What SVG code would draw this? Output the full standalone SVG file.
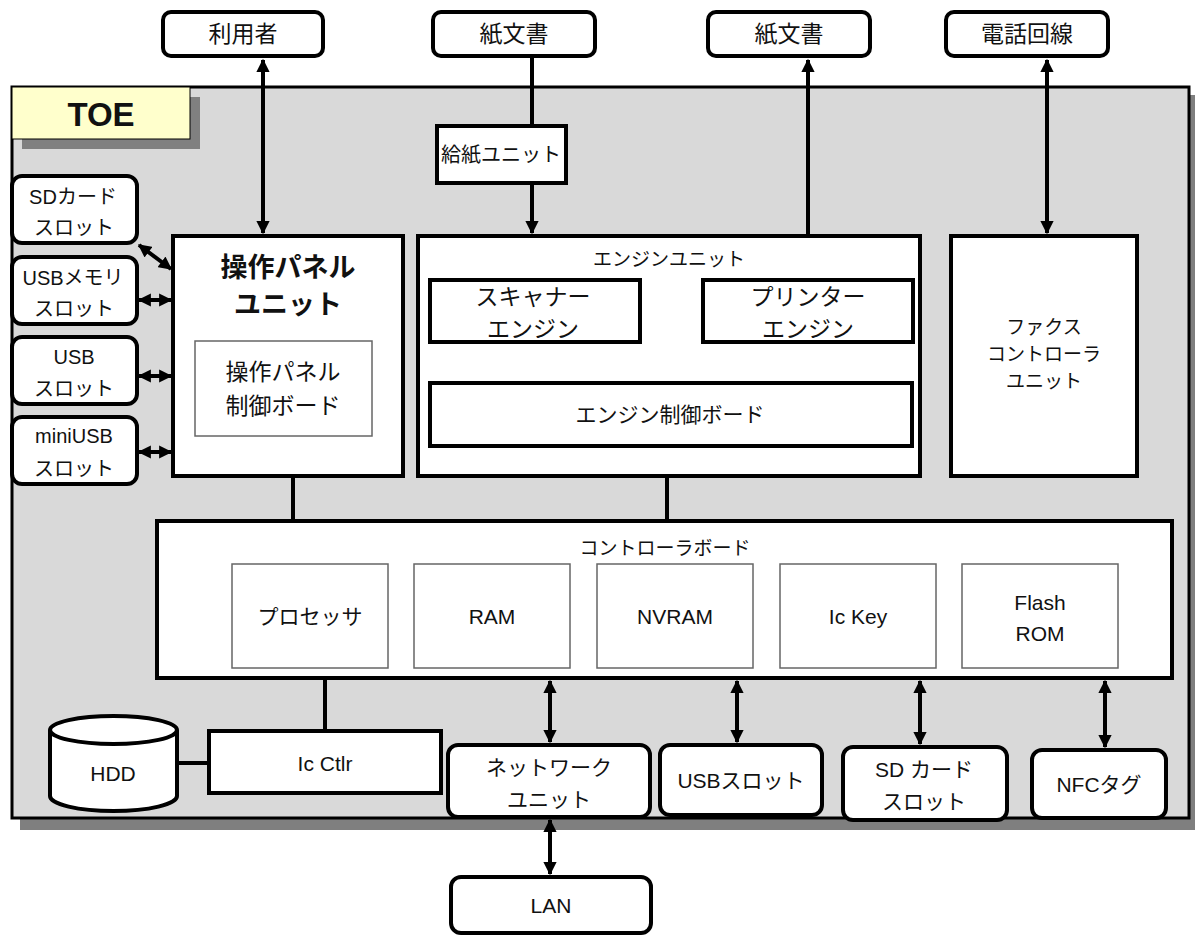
<svg xmlns="http://www.w3.org/2000/svg" width="1195" height="935" viewBox="0 0 1195 935">
<defs>
<marker id="ah" viewBox="0 0 10 10" refX="9" refY="5" markerWidth="3.5" markerHeight="3.3" orient="auto-start-reverse" markerUnits="strokeWidth">
<path d="M0,0 L10,5 L0,10 z" fill="#000"/>
</marker>
<style>
text{font-family:"Liberation Sans","Noto Sans CJK JP",sans-serif;fill:#111;text-anchor:middle;}
.rb{fill:#fff;stroke:#000;stroke-width:4;}
.bx{fill:#fff;stroke:#000;stroke-width:4;}
.in{fill:#fff;stroke:#666;stroke-width:1.5;}
.ln{stroke:#000;stroke-width:4;fill:none;}
.ar{stroke:#000;stroke-width:4;fill:none;marker-end:url(#ah);}
.da{stroke:#000;stroke-width:4;fill:none;marker-end:url(#ah);marker-start:url(#ah);}
.t23{font-size:23px;}
.t21{font-size:21px;}
.t20{font-size:20px;}
.t19{font-size:19px;}
</style>
</defs>
<rect width="1195" height="935" fill="#fff"/>

<g id="toe">
<rect x="20" y="95" width="1175" height="735" fill="#7f7f7f"/>
<rect x="12" y="87" width="1177" height="731" fill="#d9d9d9" stroke="#000" stroke-width="3"/>
<rect x="22" y="97" width="178" height="52" fill="#808080"/>
<rect x="12" y="87" width="178" height="52" fill="#ffffcc" stroke="#000" stroke-width="1"/>
<text x="101" y="126" style="font-size:33px;font-weight:bold">TOE</text>
</g>

<g id="connectors">
<line class="da" x1="263" y1="60" x2="263" y2="233"/>
<line class="ln" x1="532" y1="56" x2="532" y2="126"/>
<line class="ar" x1="532" y1="183" x2="532" y2="233"/>
<line class="ar" x1="808" y1="280" x2="808" y2="60"/>
<line class="da" x1="1047" y1="60" x2="1047" y2="233"/>
<line class="ln" x1="535" y1="342" x2="535" y2="383"/>
<line class="ln" x1="808" y1="342" x2="808" y2="383"/>
<line class="ln" x1="293" y1="476" x2="293" y2="521"/>
<line class="ln" x1="667" y1="476" x2="667" y2="521"/>
<line class="ln" x1="325" y1="678" x2="325" y2="731"/>
<line class="ln" x1="177" y1="763" x2="209" y2="763"/>
<line class="da" x1="550" y1="681" x2="550" y2="742"/>
<line class="da" x1="737" y1="681" x2="737" y2="742"/>
<line class="da" x1="920" y1="681" x2="920" y2="744"/>
<line class="da" x1="1105" y1="681" x2="1105" y2="747"/>
<line class="da" x1="550" y1="820" x2="550" y2="874"/>
<line class="da" x1="139" y1="245" x2="171" y2="269"/>
<line class="da" x1="139" y1="300" x2="171" y2="300"/>
<line class="da" x1="139" y1="376" x2="171" y2="376"/>
<line class="da" x1="139" y1="452" x2="171" y2="452"/>
</g>

<g id="user"><rect class="rb" x="163" y="12" width="160" height="44" rx="8"/><text class="t23" x="243" y="42">利用者</text></g>
<g id="paper-in"><rect class="rb" x="433" y="12" width="162" height="44" rx="8"/><text class="t23" x="514" y="42">紙文書</text></g>
<g id="paper-out"><rect class="rb" x="708" y="12" width="162" height="44" rx="8"/><text class="t23" x="789" y="42">紙文書</text></g>
<g id="phone"><rect class="rb" x="946" y="12" width="162" height="44" rx="8"/><text class="t23" x="1027" y="42">電話回線</text></g>

<g id="feeder"><rect class="bx" x="437" y="126" width="129" height="57"/><text class="t20" x="501" y="162">給紙ユニット</text></g>

<g id="panel-unit">
<rect class="bx" x="173" y="236" width="230" height="240"/>
<text x="288" y="277" style="font-size:27px;font-weight:bold">操作パネル</text>
<text x="288" y="314" style="font-size:27px;font-weight:bold">ユニット</text>
<rect class="in" x="195" y="341" width="177" height="95"/>
<text class="t23" x="283" y="380">操作パネル</text>
<text class="t23" x="283" y="414">制御ボード</text>
</g>

<g id="engine-unit">
<rect class="bx" x="418" y="236" width="502" height="240"/>
<text class="t19" x="669" y="266">エンジンユニット</text>
<rect class="bx" x="430" y="280" width="210" height="62"/>
<text class="t23" x="533" y="305">スキャナー</text>
<text class="t23" x="533" y="337">エンジン</text>
<rect class="bx" x="703" y="280" width="210" height="62"/>
<text class="t23" x="808" y="305">プリンター</text>
<text class="t23" x="808" y="337">エンジン</text>
<rect class="bx" x="430" y="383" width="482" height="63"/>
<text class="t21" x="670" y="422">エンジン制御ボード</text>
</g>

<g id="fax">
<rect class="bx" x="951" y="236" width="186" height="240"/>
<text class="t19" x="1044" y="334">ファクス</text>
<text class="t19" x="1044" y="361">コントローラ</text>
<text class="t19" x="1044" y="388">ユニット</text>
</g>

<g id="controller">
<rect class="bx" x="157" y="521" width="1015" height="157"/>
<text class="t19" x="665" y="555">コントローラボード</text>
<rect class="in" x="232" y="564" width="156" height="104"/><text class="t21" x="310" y="624">プロセッサ</text>
<rect class="in" x="414" y="564" width="156" height="104"/><text class="t21" x="492" y="624">RAM</text>
<rect class="in" x="597" y="564" width="156" height="104"/><text class="t21" x="675" y="624">NVRAM</text>
<rect class="in" x="780" y="564" width="156" height="104"/><text class="t21" x="858" y="624">Ic Key</text>
<rect class="in" x="962" y="564" width="156" height="104"/><text class="t21" x="1040" y="610">Flash</text><text class="t21" x="1040" y="641">ROM</text>
</g>

<g id="sd-slot-l"><rect class="rb" x="12" y="176" width="125" height="67" rx="10"/><text class="t20" x="73" y="204">SDカード</text><text class="t20" x="74" y="235">スロット</text></g>
<g id="usbmem-slot"><rect class="rb" x="12" y="257" width="125" height="67" rx="10"/><text class="t20" x="73" y="285">USBメモリ</text><text class="t20" x="74" y="316">スロット</text></g>
<g id="usb-slot-l"><rect class="rb" x="12" y="337" width="125" height="67" rx="10"/><text class="t20" x="74" y="364">USB</text><text class="t20" x="74" y="396">スロット</text></g>
<g id="miniusb-slot"><rect class="rb" x="12" y="417" width="125" height="67" rx="10"/><text class="t20" x="74" y="443">miniUSB</text><text class="t20" x="74" y="476">スロット</text></g>

<g id="hdd">
<path d="M50,730 L50,796 A63.5,15 0 0 0 177,796 L177,730" fill="#fff" stroke="#000" stroke-width="4"/>
<ellipse cx="113.5" cy="730" rx="63.5" ry="14" fill="#fff" stroke="#000" stroke-width="4"/>
<text class="t21" x="113" y="781">HDD</text>
</g>
<g id="ic-ctlr"><rect class="bx" x="209" y="731" width="232" height="62"/><text class="t21" x="325" y="771">Ic Ctlr</text></g>
<g id="network"><rect class="rb" x="448" y="745" width="202" height="72" rx="10"/><text class="t21" x="549" y="775">ネットワーク</text><text class="t21" x="549" y="807">ユニット</text></g>
<g id="usb-slot"><rect class="rb" x="660" y="745" width="162" height="70" rx="10"/><text class="t21" x="741" y="788">USBスロット</text></g>
<g id="sd-slot"><rect class="rb" x="843" y="747" width="164" height="73" rx="10"/><text class="t21" x="924" y="777">SD カード</text><text class="t21" x="924" y="809">スロット</text></g>
<g id="nfc"><rect class="rb" x="1032" y="750" width="134" height="68" rx="10"/><text class="t21" x="1099" y="792">NFCタグ</text></g>
<g id="lan"><rect class="rb" x="451" y="877" width="200" height="56" rx="10"/><text class="t21" x="551" y="913">LAN</text></g>
</svg>
